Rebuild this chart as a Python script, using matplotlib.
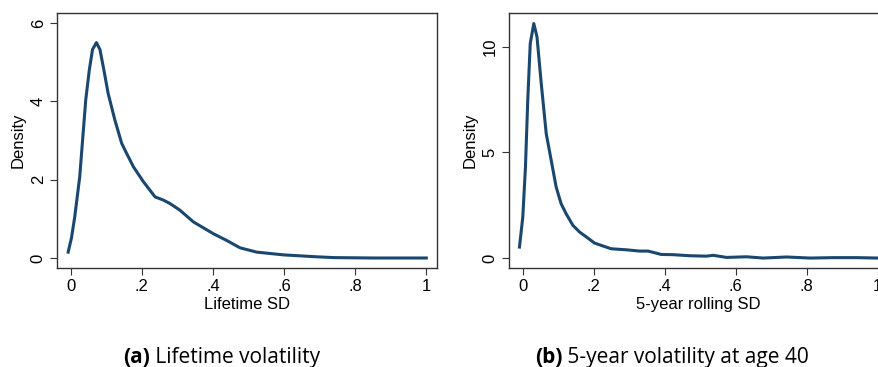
"""
Два графика плотности волатильности (Stata-стиль): пожизненное SD и 5-летнее скользящее SD.
"""

import matplotlib.pyplot as plt
from matplotlib.text import Annotation

# Панель (a): плотность пожизненного SD
life_x = [-0.0075, 0.002, 0.011, 0.025, 0.042, 0.052, 0.061, 0.072, 0.082, 0.093,
          0.105, 0.124, 0.143, 0.157, 0.176, 0.204, 0.237, 0.26, 0.279, 0.307,
          0.345, 0.401, 0.438, 0.476, 0.523, 0.598, 0.692, 0.74, 0.85, 1.0]
life_y = [0.15, 0.52, 1.05, 2.07, 4.04, 4.8, 5.32, 5.5, 5.32, 4.8,
          4.2, 3.52, 2.93, 2.67, 2.33, 1.95, 1.56, 1.48, 1.39, 1.22,
          0.92, 0.62, 0.45, 0.26, 0.15, 0.08, 0.03, 0.01, 0.0, 0.0]

# Панель (b): плотность 5-летнего скользящего SD в возрасте 40
roll_x = [-0.0094, 0.0, 0.0075, 0.014, 0.021, 0.031, 0.04, 0.052, 0.066, 0.08,
          0.094, 0.108, 0.122, 0.141, 0.16, 0.179, 0.202, 0.226, 0.249, 0.292,
          0.329, 0.353, 0.39, 0.423, 0.47, 0.517, 0.536, 0.574, 0.63, 0.677,
          0.743, 0.809, 0.875, 0.94, 1.0]
roll_y = [0.52, 1.94, 4.3, 7.47, 10.16, 11.1, 10.47, 8.26, 5.89, 4.63,
          3.36, 2.57, 2.1, 1.55, 1.23, 1.0, 0.71, 0.57, 0.44, 0.39,
          0.33, 0.33, 0.17, 0.16, 0.11, 0.09, 0.13, 0.03, 0.06, 0.0,
          0.05, 0.0, 0.02, 0.02, 0.0]

x_ticks = [0, 0.2, 0.4, 0.6, 0.8, 1.0]
x_labels = ["0", ".2", ".4", ".6", ".8", "1"]

LINE_COLOR = "#1a476f"
AX_FONT = "Liberation Sans"
CAP_FONT = "Open Sans"

fig = plt.figure(figsize=(8.79, 3.67), dpi=100)


def draw_panel(rect, xs, ys, ylim, yticks, xlabel):
    ax = fig.add_axes(rect)
    ax.plot(xs, ys, color=LINE_COLOR, lw=2.2, solid_joinstyle="round")
    ax.set_xlim(-0.039, 1.03)
    ax.set_ylim(*ylim)
    ax.set_xticks(x_ticks)
    ax.set_xticklabels(x_labels, fontfamily=AX_FONT, fontsize=12)
    ax.set_yticks(yticks)
    ax.set_yticklabels([str(t) for t in yticks], fontfamily=AX_FONT,
                       fontsize=12, rotation=90, va="center")
    ax.set_xlabel(xlabel, fontfamily=AX_FONT, fontsize=12, labelpad=2)
    ax.set_ylabel("Density", fontfamily=AX_FONT, fontsize=12, labelpad=4)
    ax.tick_params(direction="out", length=5, width=0.8, color="#333333", pad=3)
    for sp in ax.spines.values():
        sp.set_color("#333333")
        sp.set_linewidth(1.0)
    return ax


draw_panel([0.0648, 0.2698, 0.4323, 0.6948], life_x, life_y,
           (-0.255, 6.255), [0, 2, 4, 6], "Lifetime SD")
draw_panel([0.579, 0.2698, 0.4318, 0.6948], roll_x, roll_y,
           (-0.47, 11.6), [0, 5, 10], "5-year rolling SD")

# Подписи панелей: жирная буква + обычный текст
for x0, tag, rest in [(123 / 879, "(a)", "Lifetime volatility"),
                      (535 / 879, "(b)", "5-year volatility at age 40")]:
    t = fig.text(x0, 0.012, tag, fontfamily=CAP_FONT, fontsize=15,
                 fontweight="bold", va="baseline", ha="left")
    fig.add_artist(Annotation(" " + rest, xy=(1, 0), xycoords=t,
                              fontfamily=CAP_FONT, fontsize=15,
                              va="bottom", ha="left"))

fig.savefig("out.png", dpi=100)
